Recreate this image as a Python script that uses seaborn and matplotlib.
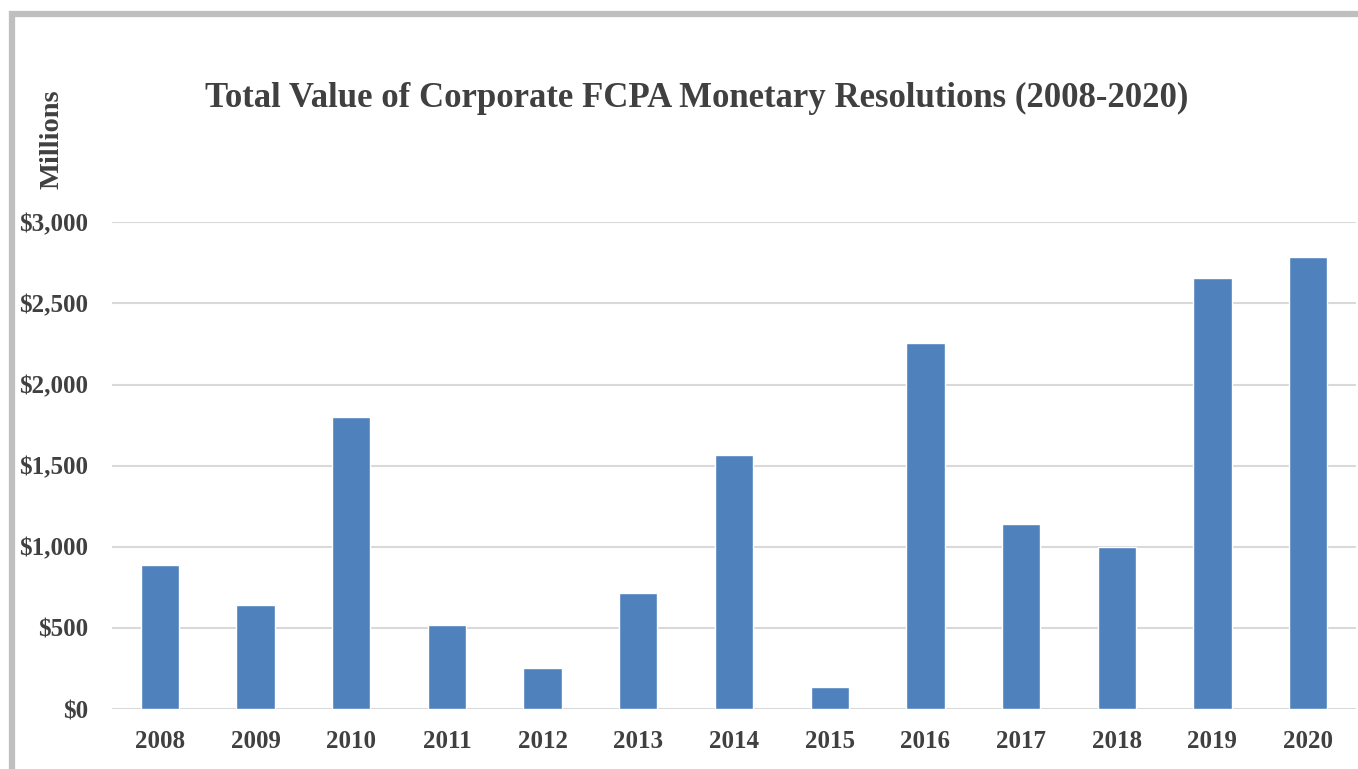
import numpy as np
import pandas as pd
import matplotlib
matplotlib.use("Agg")
import matplotlib.pyplot as plt
from matplotlib.patches import Rectangle
import seaborn as sns

years = ['2008', '2009', '2010', '2011', '2012', '2013', '2014',
         '2015', '2016', '2017', '2018', '2019', '2020']
values = [890, 640, 1800, 520, 250, 715, 1565, 135, 2255, 1140, 1000, 2655, 2785]
yticks = [0, 500, 1000, 1500, 2000, 2500, 3000]
ytick_labels = ['$0', '$500', '$1,000', '$1,500', '$2,000', '$2,500', '$3,000']

sns.set_theme(style="white")
plt.rcParams['font.family'] = ['Liberation Serif', 'DejaVu Serif']
plt.rcParams['font.weight'] = 'bold'

data = pd.DataFrame({'year': years, 'value': values})

fig = plt.figure(figsize=(13.58, 7.69), dpi=100)
ax = fig.add_axes([0.0825, 0.078, 0.916, 0.633])

sns.barplot(data=data, x='year', y='value', color='#4F81BD', width=0.4,
            saturation=1, ax=ax, zorder=3)

ax.set_ylim(0, 3000)
ax.set_xlim(-0.5, len(years) - 0.5)
ax.set_yticks(yticks)
ax.set_yticklabels(ytick_labels)
ax.yaxis.grid(True, color='#D9D9D9', linewidth=1.5, zorder=0)
ax.set_axisbelow(True)
for s in ax.spines.values():
    s.set_visible(False)
ax.tick_params(axis='y', length=0, pad=17, labelsize=18, labelcolor='#404040')
ax.tick_params(axis='x', length=0, pad=15, labelsize=18, labelcolor='#404040')
for lab in ax.get_xticklabels() + ax.get_yticklabels():
    lab.set_fontweight('bold')
ax.set_xlabel('')
ax.set_ylabel('')

fig.text(0.513, 1 - 98 / 769, 'Total Value of Corporate FCPA Monetary Resolutions (2008-2020)',
         ha='center', va='center', fontsize=25, fontweight='bold', color='#404040')
fig.text(52 / 1358, 1 - 139 / 769, 'Millions', rotation=90, ha='center', va='center',
         fontsize=20.5, fontweight='bold', color='#404040')

# grey frame around the chart
fig.patches.append(Rectangle((12 / 1358, -0.1), 1.2, 1 - 14.5 / 769 + 0.1,
                             transform=fig.transFigure, fill=False,
                             edgecolor='#BFBFBF', linewidth=4.5))

fig.savefig('out.png', dpi=100, facecolor='white')
